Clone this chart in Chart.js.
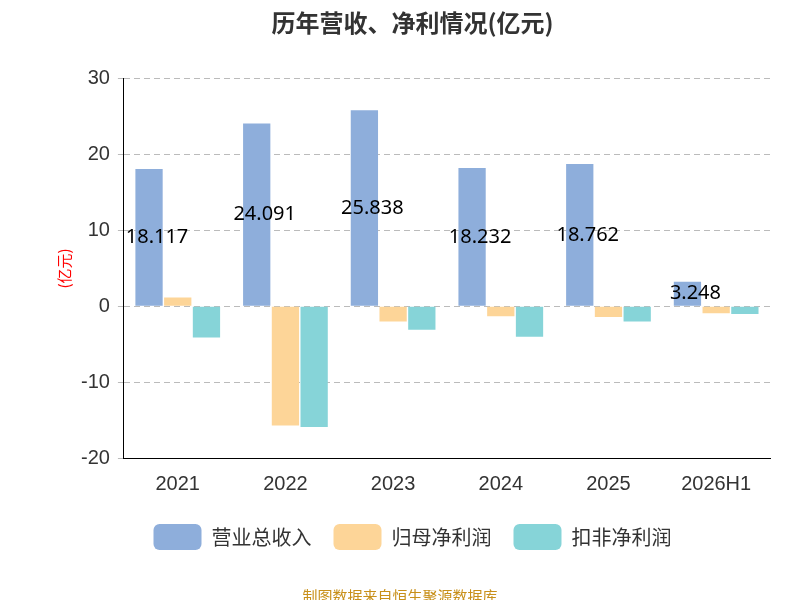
<!DOCTYPE html>
<html>
<head>
<meta charset="utf-8">
<script src="https://cdn.jsdelivr.net/npm/chart.js@4"></script>
<style>
  body { margin: 0; background: #fff; }
</style>
</head>
<body>
<canvas id="c" width="800" height="600"></canvas>
<script>
const years = ['2021', '2022', '2023', '2024', '2025', '2026H1'];
const revenue = [18.117, 24.091, 25.838, 18.232, 18.762, 3.248];
const netProfit = [1.15, -15.7, -2.0, -1.3, -1.4, -0.9];
const deductedProfit = [-4.1, -15.9, -3.1, -4.0, -2.0, -1.0];

// revenue values written in the middle of the blue bars
const barLabels = {
    id: 'barLabels',
    afterDatasetsDraw(chart) {
        const ctx = chart.ctx;
        const meta = chart.getDatasetMeta(0);
        ctx.save();
        ctx.font = '20px "Noto Sans", sans-serif';
        ctx.fillStyle = '#000';
        ctx.textAlign = 'center';
        ctx.textBaseline = 'middle';
        meta.data.forEach((bar, i) => {
            const y = (bar.y + bar.base) / 2;
            ctx.fillText(revenue[i].toFixed(3), bar.x + 8, y);
        });
        ctx.restore();
    }
};

const footer = {
    id: 'footer',
    afterDraw(chart) {
        const ctx = chart.ctx;
        ctx.save();
        ctx.font = '15px "Noto Sans CJK SC", sans-serif';
        ctx.fillStyle = '#c8901a';
        ctx.textAlign = 'center';
        ctx.fillText('制图数据来自恒生聚源数据库', 400, 596);
        ctx.restore();
    }
};

new Chart(document.getElementById('c'), {
    type: 'bar',
    data: {
        labels: years,
        datasets: [
            { label: '营业总收入', data: revenue, backgroundColor: '#8eaedb' },
            { label: '归母净利润', data: netProfit, backgroundColor: '#fdd598' },
            { label: '扣非净利润', data: deductedProfit, backgroundColor: '#86d4d8' }
        ]
    },
    options: {
        responsive: false,
        animation: false,
        devicePixelRatio: 1,
        layout: { padding: { left: 55, right: 30, top: 0, bottom: 40 } },
        datasets: { bar: { categoryPercentage: 0.8, barPercentage: 0.95 } },
        plugins: {
            title: {
                display: true,
                text: '历年营收、净利情况(亿元)',
                font: { size: 24, weight: 'bold', family: '"Noto Sans CJK SC", sans-serif' },
                color: '#333',
                padding: { top: 8, bottom: 42 }
            },
            legend: {
                position: 'bottom',
                labels: {
                    font: { size: 20, family: '"Noto Sans CJK SC", sans-serif' },
                    color: '#333',
                    boxWidth: 48,
                    boxHeight: 26,
                    useBorderRadius: true,
                    borderRadius: 6,
                    padding: 22
                }
            },
            tooltip: { enabled: false }
        },
        scales: {
            x: {
                grid: { display: false },
                border: { color: '#000' },
                ticks: { font: { size: 20 }, color: '#333', padding: 6 }
            },
            y: {
                min: -20,
                max: 30,
                ticks: { stepSize: 10, font: { size: 20 }, color: '#333', padding: 8 },
                grid: { color: '#bbb', drawTicks: true, tickLength: 6 },
                border: { color: '#000', dash: [6, 4] },
                title: {
                    display: true,
                    text: '(亿元)',
                    color: 'red',
                    font: { size: 15, family: '"Noto Sans CJK SC", sans-serif' },
                    padding: 0
                }
            }
        }
    },
    plugins: [barLabels, footer]
});
</script>
</body>
</html>
